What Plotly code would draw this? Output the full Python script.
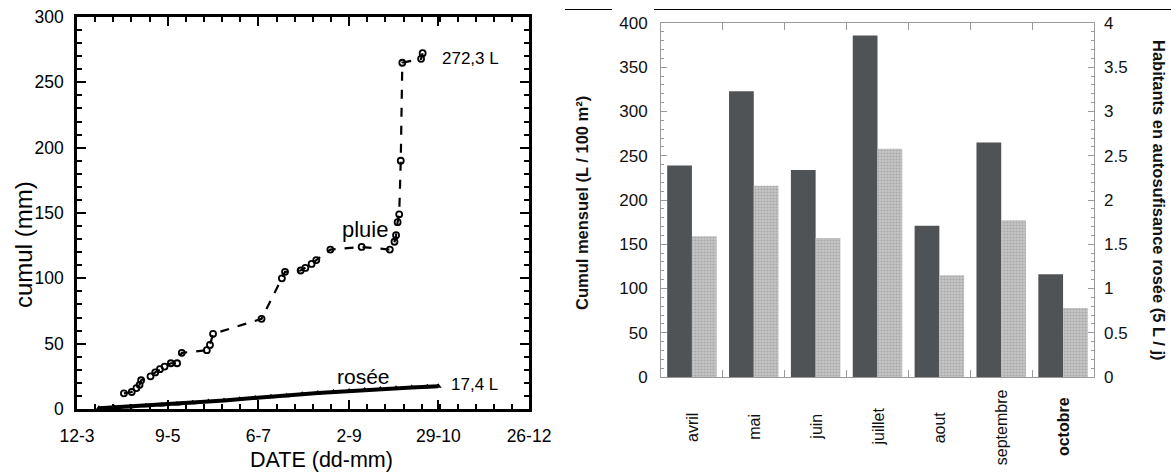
import plotly.graph_objects as go

# ---------------- data: left chart (cumulative, mm) ----------------
pluie_dates = ["2001-04-11", "2001-04-16", "2001-04-19", "2001-04-21", "2001-04-22",
               "2001-04-28", "2001-05-01", "2001-05-04", "2001-05-07", "2001-05-11",
               "2001-05-15", "2001-05-18", "2001-06-03", "2001-06-05", "2001-06-07",
               "2001-07-08", "2001-07-21", "2001-07-23", "2001-08-02", "2001-08-05",
               "2001-08-09", "2001-08-12", "2001-08-21", "2001-09-10", "2001-09-28",
               "2001-10-01", "2001-10-02", "2001-10-03", "2001-10-04", "2001-10-05",
               "2001-10-06", "2001-10-18", "2001-10-19"]
pluie_mm = [12, 13, 16, 18.5, 22,
            25, 28, 30.5, 32.5, 35,
            35, 43, 45, 49, 57.5,
            69, 100, 105, 106, 108,
            111, 114, 122, 124, 122,
            128, 133, 143, 149, 190,
            265, 268, 272.3]

rosee_dates = ["2001-03-26", "2001-04-05", "2001-04-15", "2001-04-25", "2001-05-05",
               "2001-05-15", "2001-05-25", "2001-06-04", "2001-06-14", "2001-06-24",
               "2001-07-04", "2001-07-14", "2001-07-24", "2001-08-03", "2001-08-13",
               "2001-08-23", "2001-09-02", "2001-09-12", "2001-09-22", "2001-10-02",
               "2001-10-12", "2001-10-22", "2001-10-29"]
rosee_mm = [0.5, 1.2, 1.8, 2.4, 3.0,
            3.8, 4.8, 5.8, 6.6, 7.4,
            8.5, 9.3, 10.2, 11.3, 12.2,
            13.0, 13.8, 14.6, 15.3, 15.9,
            16.5, 17.0, 17.4]

date_tickvals = ["2001-03-12", "2001-05-09", "2001-07-06", "2001-09-02", "2001-10-29", "2001-12-26"]
date_ticktext = ["12-3", "9-5", "6-7", "2-9", "29-10", "26-12"]

# ---------------- data: right chart (monthly) ----------------
months = ["avril", "mai", "juin", "juillet", "aout", "septembre", "octobre"]
month_labels = ["avril", "mai", "juin", "juillet", "aout", "septembre", "<b>octobre</b>"]
cumul_mensuel = [239, 323, 234, 386, 171, 265, 116]
habitants = [1.59, 2.16, 1.57, 2.58, 1.15, 1.77, 0.78]

W, H = 1171, 474
FONT = "Liberation Sans, Arial, sans-serif"


def px_x(v):
    return v / W


def px_y(v):
    return 1 - v / H


fig = go.Figure()

# ---- left chart traces ----
fig.add_trace(go.Scatter(
    x=rosee_dates, y=rosee_mm, mode="lines+markers",
    line=dict(color="black", width=4),
    marker=dict(symbol="triangle-up", size=6, color="black"),
    xaxis="x", yaxis="y", showlegend=False, name="rosée"))

fig.add_trace(go.Scatter(
    x=pluie_dates, y=pluie_mm, mode="lines+markers",
    line=dict(color="black", width=2.2, dash="dash"),
    marker=dict(symbol="circle-open", size=6, color="black", line=dict(width=1.8, color="black")),
    xaxis="x", yaxis="y", showlegend=False, name="pluie"))

# ---- right chart traces ----
fig.add_trace(go.Bar(
    x=months, y=cumul_mensuel, marker=dict(color="#505355", line=dict(width=0)),
    xaxis="x2", yaxis="y2", offsetgroup="a", showlegend=False, name="Cumul mensuel"))
fig.add_trace(go.Bar(
    x=months, y=habitants,
    marker=dict(color="#bcbcbc", line=dict(width=0),
                pattern=dict(shape=".", size=3, solidity=0.4, fgcolor="#8a8a8a", bgcolor="#c6c6c6")),
    xaxis="x2", yaxis="y3", offsetgroup="b", showlegend=False, name="Habitants"))

# left plot area pixels: x 77-529, y 17-409
# right plot area pixels: x 661-1094, y 23-377
fig.update_layout(
    width=W, height=H,
    margin=dict(l=0, r=0, t=0, b=0, autoexpand=False),
    paper_bgcolor="white", plot_bgcolor="white",
    font=dict(family=FONT, color="black"),
    barmode="group", bargap=0.2, bargroupgap=0,
    xaxis=dict(
        domain=[px_x(77), px_x(529)], anchor="y", type="date", automargin=False,
        range=["2001-03-12", "2001-12-26"],
        tickmode="array", tickvals=date_tickvals, ticktext=date_ticktext,
        ticks="inside", ticklen=9, tickwidth=2, tickcolor="black",
        minor=dict(ticks="inside", ticklen=5, tickwidth=1.5, tickcolor="black",
                   tickmode="linear", tick0="2001-03-12", dtick=11.6 * 86400000),
        showline=True, linewidth=2.5, linecolor="black", mirror="ticks",
        showgrid=False, zeroline=False,
        tickfont=dict(size=17.5, family=FONT), ticklabelstandoff=9),
    yaxis=dict(
        domain=[px_y(409), px_y(17)], anchor="x", automargin=False,
        range=[0, 300], tickmode="linear", tick0=0, dtick=50,
        ticks="inside", ticklen=9, tickwidth=2, tickcolor="black",
        minor=dict(ticks="inside", ticklen=5, tickwidth=1.5, tickcolor="black", dtick=10),
        showline=True, linewidth=2.5, linecolor="black", mirror="ticks",
        showgrid=False, zeroline=False,
        tickfont=dict(size=17.5, family=FONT), ticklabelstandoff=7),
    xaxis2=dict(
        domain=[px_x(661), px_x(1094)], anchor="y2", type="category", automargin=False,
        tickson="boundaries", showticklabels=False,
        ticks="inside", ticklen=7, tickwidth=1, tickcolor="#9a9a9a",
        showline=True, linewidth=1, linecolor="#9a9a9a", mirror="ticks",
        showgrid=False, zeroline=False),
    yaxis2=dict(
        domain=[px_y(377), px_y(23)], anchor="x2", automargin=False,
        range=[0, 400], tickmode="linear", tick0=0, dtick=50,
        ticks="inside", ticklen=6, tickwidth=1, tickcolor="#9a9a9a",
        minor=dict(ticks="inside", ticklen=3, tickwidth=1, tickcolor="#9a9a9a", dtick=10),
        showline=True, linewidth=1, linecolor="#9a9a9a", mirror=True,
        showgrid=False, zeroline=False,
        tickfont=dict(size=17, family=FONT, color="#111"), ticklabelstandoff=9),
    yaxis3=dict(
        overlaying="y2", side="right", anchor="x2", automargin=False,
        range=[0, 4], tickmode="linear", tick0=0, dtick=0.5,
        ticks="inside", ticklen=6, tickwidth=1, tickcolor="#9a9a9a",
        minor=dict(ticks="inside", ticklen=3, tickwidth=1, tickcolor="#9a9a9a", dtick=0.1),
        showline=False, showgrid=False, zeroline=False,
        tickfont=dict(size=17, family=FONT, color="#111"), ticklabelstandoff=9),
)

C = dict(xanchor="center", yanchor="middle", showarrow=False)
annotations = [
    # left chart texts
    dict(text="pluie", x="2001-09-12", y=137.5, xref="x", yref="y",
         font=dict(size=22, family=FONT), **C),
    dict(text="rosée", x="2001-09-11", y=24.5, xref="x", yref="y",
         font=dict(size=21, family=FONT), **C),
    dict(text="272,3 L", x="2001-10-30", y=268, xref="x", yref="y", xanchor="left",
         yanchor="middle", showarrow=False, font=dict(size=17, family=FONT)),
    dict(text="17,4 L", x="2001-11-05", y=18.5, xref="x", yref="y", xanchor="left",
         yanchor="middle", showarrow=False, font=dict(size=17, family=FONT)),
    dict(text="cumul (mm)", x=px_x(23), y=px_y(245), xref="paper", yref="paper",
         textangle=-90, font=dict(size=24, family=FONT), **C),
    dict(text="DATE (dd-mm)", x=px_x(321), y=px_y(460), xref="paper", yref="paper",
         font=dict(size=21.5, family=FONT), **C),
    # right chart titles
    dict(text="<b>Cumul mensuel (L / 100 m²)</b>", x=px_x(582), y=px_y(203), xref="paper",
         yref="paper", textangle=-90, font=dict(size=16.5, family=FONT, color="#111"), **C),
    dict(text="<b>Habitants en autosufisance rosée (5 L / j)</b>", x=px_x(1159), y=px_y(200),
         xref="paper", yref="paper", textangle=90,
         font=dict(size=16.5, family=FONT, color="#111"), **C),
]
# month labels, vertically centred below the bars
for m, lab in zip(months, month_labels):
    annotations.append(dict(text=lab, x=m, y=px_y(427), xref="x2", yref="paper",
                            textangle=-90, font=dict(size=16, family=FONT, color="#111"), **C))
fig.update_layout(annotations=annotations)

# decorative rules at the top of the right panel
fig.update_layout(shapes=[
    dict(type="line", xref="paper", yref="paper", x0=px_x(565), x1=px_x(612),
         y0=px_y(9.5), y1=px_y(9.5), line=dict(color="black", width=1)),
    dict(type="line", xref="paper", yref="paper", x0=px_x(654), x1=1,
         y0=px_y(9.5), y1=px_y(9.5), line=dict(color="black", width=1)),
])

# remove the browser's default page margin so the figure fills the window exactly
fig.write_html("out.html", config={"displayModeBar": False},
               post_script="document.body.style.margin='0';document.body.style.overflow='hidden';")
